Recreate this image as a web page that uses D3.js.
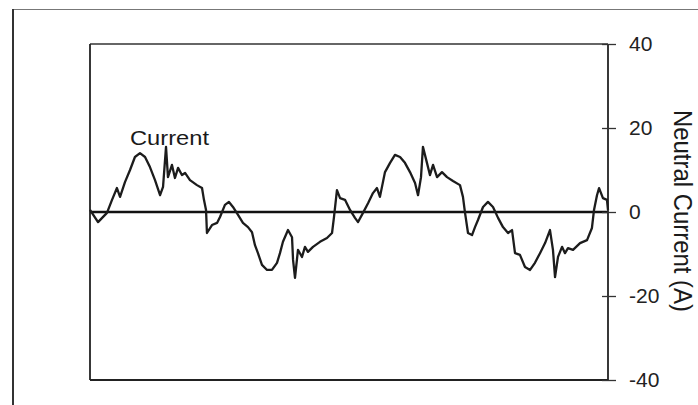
<!DOCTYPE html>
<html><head><meta charset="utf-8">
<script src="https://cdn.jsdelivr.net/npm/d3@7"></script>
<style>body{margin:0;background:#fff}svg{display:block}</style>
</head><body>
<script>
// time (ms) of each sample
const timeMs = [0.00,0.62,1.31,1.70,2.08,2.32,2.70,3.09,3.47,3.86,4.25,4.63,5.02,5.41,5.64,5.87,6.02,6.33,6.56,6.80,7.10,7.34,7.72,8.26,8.65,8.80,8.96,9.03,9.42,9.81,10.04,10.42,10.73,11.04,11.43,11.81,12.20,12.51,12.74,12.97,13.28,13.67,14.05,14.44,14.67,14.90,15.29,15.60,15.68,15.83,16.06,16.37,16.60,16.83,17.22,17.76,18.30,18.69,18.84,19.07,19.31,19.69,20.08,20.46,20.70,21.08,21.47,21.85,22.16,22.39,22.78,23.17,23.55,23.94,24.32,24.71,25.10,25.33,25.56,25.71,26.02,26.25,26.49,26.80,27.18,27.57,28.03,28.57,28.80,28.96,29.19,29.50,29.73,29.96,30.35,30.73,31.12,31.51,31.89,32.28,32.59,32.82,33.20,33.59,33.98,34.36,34.75,35.14,35.52,35.75,35.91,36.14,36.45,36.68,36.91,37.30,37.84,38.38,38.76,38.92,39.15,39.31,39.61,39.92,40.00];
// neutral current (A)
const current = [0.5,-2.4,-0.2,2.9,5.7,3.6,7.1,10.0,13.1,14.0,13.1,10.7,7.6,4.0,6.0,15.5,8.3,11.2,8.1,10.5,8.8,9.3,7.6,6.4,5.7,2.9,0.5,-5.0,-3.1,-2.6,-1.2,1.7,2.4,1.2,-0.7,-2.6,-3.6,-4.8,-7.9,-9.8,-12.6,-13.8,-13.8,-12.1,-9.8,-7.1,-4.3,-6.0,-11.4,-15.7,-9.0,-10.7,-8.3,-9.5,-8.3,-7.1,-6.2,-5.0,-1.2,5.2,3.3,2.9,0.5,-1.4,-2.4,-0.2,2.1,4.5,5.7,3.6,9.5,11.7,13.6,13.1,11.7,9.5,6.9,4.0,8.3,15.5,11.7,8.8,11.2,8.3,9.5,8.3,7.4,6.4,3.6,-0.2,-5.0,-5.5,-3.6,-1.9,1.2,2.4,1.2,-1.4,-3.6,-5.0,-4.3,-9.8,-10.2,-13.1,-13.8,-12.1,-9.8,-7.4,-4.3,-9.0,-15.5,-10.7,-8.3,-9.8,-8.6,-9.0,-7.4,-6.7,-3.8,0.5,4.0,5.7,3.3,2.9,0.5];
const yTicks = [40, 20, 0, -20, -40];
const yTickLabels = ["40", "20", "0", "-20", "-40"];
const seriesLabel = "Current";
const axisTitle = "Neutral Current (A)";

const W = 698, H = 405;
const mLeft = 90, mRight = 608, mTop = 44, mBottom = 380;

const svg = d3.select("body").append("svg").attr("width", W).attr("height", H);

const x = d3.scaleLinear().domain([0, 40]).range([mLeft, mRight]);
const y = d3.scaleLinear().domain([-40, 40]).range([mBottom, mTop]);

// outer scan frame
svg.append("line").attr("x1", 12).attr("x2", W).attr("y1", 9.5).attr("y2", 9.5)
  .attr("stroke", "#777").attr("stroke-width", 1.2);
svg.append("line").attr("x1", 13).attr("x2", 13).attr("y1", 9).attr("y2", H)
  .attr("stroke", "#333").attr("stroke-width", 2);

// plot frame
svg.append("line").attr("x1", mLeft).attr("x2", mRight).attr("y1", mTop).attr("y2", mTop)
  .attr("stroke", "#333").attr("stroke-width", 1.5);
svg.append("line").attr("x1", mLeft).attr("x2", mRight).attr("y1", mBottom).attr("y2", mBottom)
  .attr("stroke", "#222").attr("stroke-width", 1.8);
svg.append("line").attr("x1", mLeft).attr("x2", mLeft).attr("y1", mTop).attr("y2", mBottom)
  .attr("stroke", "#222").attr("stroke-width", 1.8);

// zero line
svg.append("line").attr("x1", mLeft).attr("x2", mRight).attr("y1", y(0)).attr("y2", y(0))
  .attr("stroke", "#111").attr("stroke-width", 2.5);

// right axis
const axis = d3.axisRight(y).tickValues(yTicks).tickSize(8).tickPadding(13)
  .tickFormat((d, i) => yTickLabels[i]);
const gA = svg.append("g").attr("transform", `translate(${mRight},0)`).call(axis);
gA.select(".domain").attr("stroke", "#222").attr("stroke-width", 1.8)
  .attr("d", `M0,${mTop}V${mBottom}`);
gA.selectAll(".tick line").attr("x1", -6).attr("stroke", "#333").attr("stroke-width", 1.3);
gA.selectAll(".tick text").attr("font-family", "Liberation Sans, Arial, sans-serif")
  .attr("font-size", 21).attr("fill", "#222");

// data line
const line = d3.line().x((d, i) => x(timeMs[i])).y(d => y(d));
svg.append("path").datum(current).attr("d", line)
  .attr("fill", "none").attr("stroke", "#1c1c1c").attr("stroke-width", 2.3)
  .attr("stroke-linejoin", "round");

// series label
svg.append("text").attr("x", 130).attr("y", 145).text(seriesLabel)
  .attr("font-family", "Liberation Sans, Arial, sans-serif").attr("font-size", 21)
  .attr("textLength", 79).attr("lengthAdjust", "spacingAndGlyphs").attr("fill", "#1a1a1a");

// axis title
svg.append("text").attr("transform", `translate(674,211) rotate(90)`)
  .attr("text-anchor", "middle").text(axisTitle)
  .attr("font-family", "Liberation Sans, Arial, sans-serif").attr("font-size", 25)
  .attr("textLength", 202).attr("lengthAdjust", "spacingAndGlyphs").attr("fill", "#1a1a1a");
</script>
</body></html>
